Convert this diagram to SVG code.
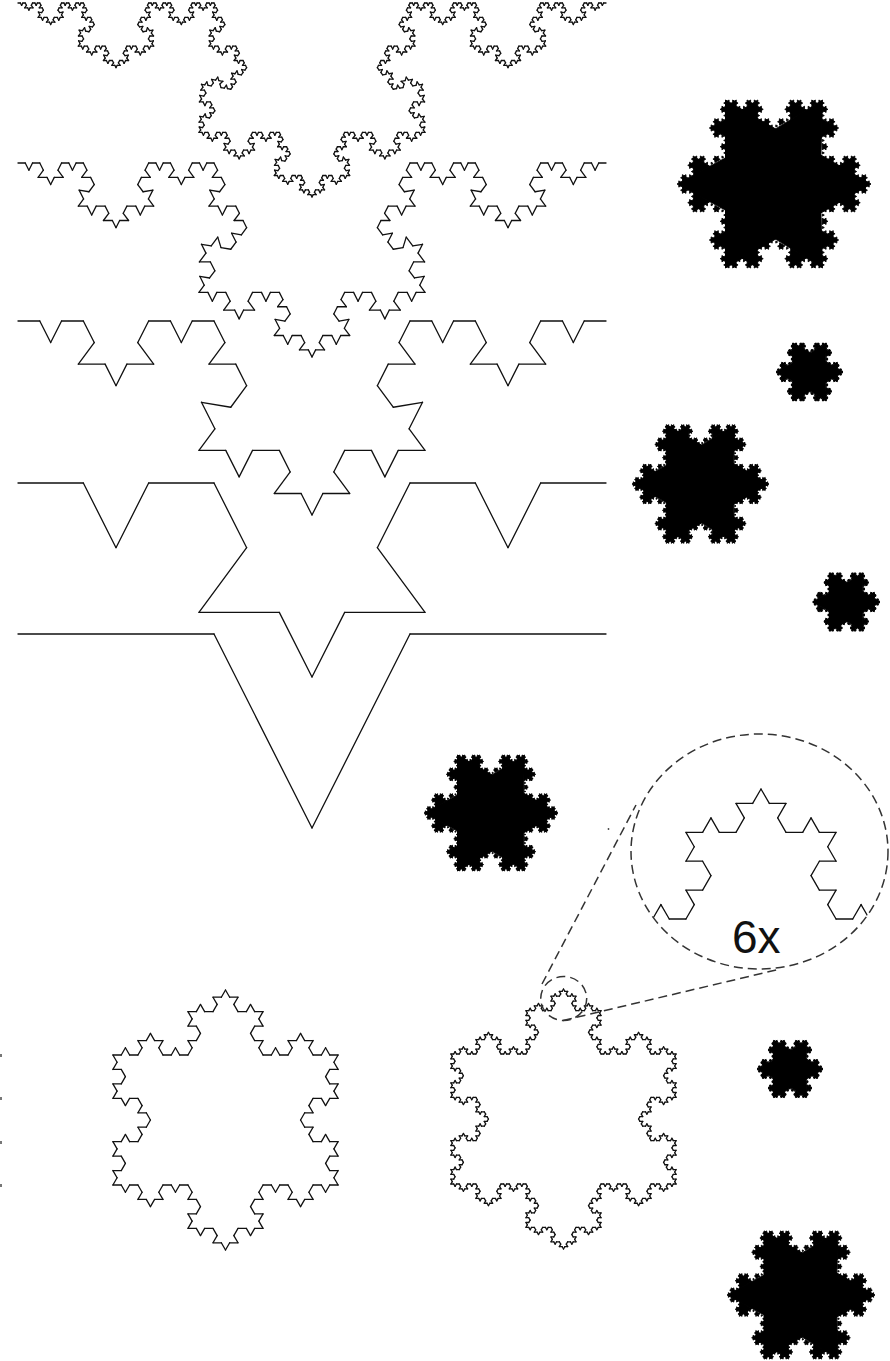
<svg xmlns="http://www.w3.org/2000/svg" width="890" height="1361" viewBox="0 0 890 1361">
<style>
.dash{fill:none;stroke:#333;stroke-width:1.5;stroke-dasharray:9 5}
.lbl{font-family:"Liberation Sans",Arial,sans-serif;font-size:46px;fill:#111}
.mark{fill:#777}
</style>
<defs>
<path id="seg" d="M0,0H1" fill="none" stroke="#111" stroke-width="1.3" stroke-linecap="round" vector-effect="non-scaling-stroke"/>
<polygon id="bump" points="0.3333333,-0.02 0.5,0.2886751 0.6666667,-0.02" fill="#000" stroke="#000" stroke-width="0.9" stroke-linejoin="round" vector-effect="non-scaling-stroke"/>
<polygon id="tri" points="0,-1 -0.8660254,0.5 0.8660254,0.5" fill="#000" stroke="#000" stroke-width="1" stroke-linejoin="round" vector-effect="non-scaling-stroke"/>
<!-- strip curve generator (apex depth 0.33) -->
<g id="s1"><use href="#seg" transform="scale(0.3333333)"/><use href="#seg" transform="translate(0.3333333,0) rotate(63.206) scale(0.3697)"/><use href="#seg" transform="translate(0.5,0.33) rotate(-63.206) scale(0.3697)"/><use href="#seg" transform="translate(0.6666667,0) scale(0.3333333)"/></g>
<g id="s2"><use href="#s1" transform="scale(0.3333333)"/><use href="#s1" transform="translate(0.3333333,0) rotate(63.206) scale(0.3697)"/><use href="#s1" transform="translate(0.5,0.33) rotate(-63.206) scale(0.3697)"/><use href="#s1" transform="translate(0.6666667,0) scale(0.3333333)"/></g>
<g id="s3"><use href="#s2" transform="scale(0.3333333)"/><use href="#s2" transform="translate(0.3333333,0) rotate(63.206) scale(0.3697)"/><use href="#s2" transform="translate(0.5,0.33) rotate(-63.206) scale(0.3697)"/><use href="#s2" transform="translate(0.6666667,0) scale(0.3333333)"/></g>
<g id="s4"><use href="#s3" transform="scale(0.3333333)"/><use href="#s3" transform="translate(0.3333333,0) rotate(63.206) scale(0.3697)"/><use href="#s3" transform="translate(0.5,0.33) rotate(-63.206) scale(0.3697)"/><use href="#s3" transform="translate(0.6666667,0) scale(0.3333333)"/></g>
<g id="s5"><use href="#s4" transform="scale(0.3333333)"/><use href="#s4" transform="translate(0.3333333,0) rotate(63.206) scale(0.3697)"/><use href="#s4" transform="translate(0.5,0.33) rotate(-63.206) scale(0.3697)"/><use href="#s4" transform="translate(0.6666667,0) scale(0.3333333)"/></g>
<!-- standard Koch curve -->
<g id="k1"><use href="#seg" transform="scale(0.3333333)"/><use href="#seg" transform="translate(0.3333333,0) rotate(60) scale(0.3333333)"/><use href="#seg" transform="translate(0.5,0.2886751) rotate(-60) scale(0.3333333)"/><use href="#seg" transform="translate(0.6666667,0) scale(0.3333333)"/></g>
<g id="k2"><use href="#k1" transform="scale(0.3333333)"/><use href="#k1" transform="translate(0.3333333,0) rotate(60) scale(0.3333333)"/><use href="#k1" transform="translate(0.5,0.2886751) rotate(-60) scale(0.3333333)"/><use href="#k1" transform="translate(0.6666667,0) scale(0.3333333)"/></g>
<g id="k3"><use href="#k2" transform="scale(0.3333333)"/><use href="#k2" transform="translate(0.3333333,0) rotate(60) scale(0.3333333)"/><use href="#k2" transform="translate(0.5,0.2886751) rotate(-60) scale(0.3333333)"/><use href="#k2" transform="translate(0.6666667,0) scale(0.3333333)"/></g>
<g id="k4"><use href="#k3" transform="scale(0.3333333)"/><use href="#k3" transform="translate(0.3333333,0) rotate(60) scale(0.3333333)"/><use href="#k3" transform="translate(0.5,0.2886751) rotate(-60) scale(0.3333333)"/><use href="#k3" transform="translate(0.6666667,0) scale(0.3333333)"/></g>
<!-- filled Koch bumps -->
<g id="f2"><use href="#bump"/><use href="#bump" transform="scale(0.3333333)"/><use href="#bump" transform="translate(0.3333333,0) rotate(60) scale(0.3333333)"/><use href="#bump" transform="translate(0.5,0.2886751) rotate(-60) scale(0.3333333)"/><use href="#bump" transform="translate(0.6666667,0) scale(0.3333333)"/></g>
<g id="f3"><use href="#bump"/><use href="#f2" transform="scale(0.3333333)"/><use href="#f2" transform="translate(0.3333333,0) rotate(60) scale(0.3333333)"/><use href="#f2" transform="translate(0.5,0.2886751) rotate(-60) scale(0.3333333)"/><use href="#f2" transform="translate(0.6666667,0) scale(0.3333333)"/></g>
<g id="f4"><use href="#bump"/><use href="#f3" transform="scale(0.3333333)"/><use href="#f3" transform="translate(0.3333333,0) rotate(60) scale(0.3333333)"/><use href="#f3" transform="translate(0.5,0.2886751) rotate(-60) scale(0.3333333)"/><use href="#f3" transform="translate(0.6666667,0) scale(0.3333333)"/></g>
<!-- snowflakes, unit radius, centred on origin -->
<g id="ko3"><use href="#k3" transform="translate(0,-1) rotate(120) scale(1.7320508)"/><use href="#k3" transform="translate(-0.8660254,0.5) scale(1.7320508)"/><use href="#k3" transform="translate(0.8660254,0.5) rotate(-120) scale(1.7320508)"/></g>
<g id="ko4"><use href="#k4" transform="translate(0,-1) rotate(120) scale(1.7320508)"/><use href="#k4" transform="translate(-0.8660254,0.5) scale(1.7320508)"/><use href="#k4" transform="translate(0.8660254,0.5) rotate(-120) scale(1.7320508)"/></g>
<g id="fs"><use href="#tri"/><use href="#f4" transform="translate(0,-1) rotate(120) scale(1.7320508)"/><use href="#f4" transform="translate(-0.8660254,0.5) scale(1.7320508)"/><use href="#f4" transform="translate(0.8660254,0.5) rotate(-120) scale(1.7320508)"/></g>
<clipPath id="clipBig"><ellipse cx="759.5" cy="851.5" rx="128.5" ry="117.5"/></clipPath>
</defs>
<rect width="890" height="1361" fill="#fff"/>

<g id="strip-5"><use href="#s5" transform="translate(18,3) scale(588)"/></g>
<g id="strip-4"><use href="#s4" transform="translate(18,163) scale(588)"/></g>
<g id="strip-3"><use href="#s3" transform="translate(18,321) scale(588)"/></g>
<g id="strip-2"><use href="#s2" transform="translate(18,483) scale(588)"/></g>
<g id="strip-1"><use href="#s1" transform="translate(18,634) scale(588)"/></g>

<g id="flake-filled-1"><use href="#fs" transform="translate(774,184) rotate(90) scale(97)"/></g>
<g id="flake-filled-2"><use href="#fs" transform="translate(809.5,372) rotate(90) scale(33.5)"/></g>
<g id="flake-filled-3"><use href="#fs" transform="translate(700.5,484) rotate(90) scale(68.5)"/></g>
<g id="flake-filled-4"><use href="#fs" transform="translate(846.3,602) rotate(90) scale(33.7)"/></g>
<g id="flake-filled-5"><use href="#fs" transform="translate(491,813) rotate(90) scale(67)"/></g>
<g id="flake-filled-6"><use href="#fs" transform="translate(790,1069) rotate(90) scale(33)"/></g>
<g id="flake-filled-7"><use href="#fs" transform="translate(801,1295) rotate(90) scale(74)"/></g>

<g id="flake-outline-3"><use href="#ko3" transform="translate(225.5,1120) scale(130)"/></g>
<g id="flake-outline-4"><use href="#ko4" transform="translate(563.5,1119) scale(130)"/></g>

<g id="magnified" clip-path="url(#clipBig)"><use href="#ko4" transform="translate(761,1569) scale(780)"/></g>

<g id="connectors">
<ellipse class="dash" cx="563.7" cy="998.5" rx="23" ry="22"/>
<ellipse class="dash" cx="759.5" cy="851.5" rx="128.5" ry="117.5"/>
<line class="dash" x1="542" y1="984" x2="636" y2="805"/>
<line class="dash" x1="563" y1="1020.5" x2="778" y2="969.5"/>
</g>
<text class="lbl" x="732" y="953">6x</text>
<circle cx="608.5" cy="829" r="0.9" fill="#444"/>
<g id="edge-marks"><rect class="mark" x="0" y="1054" width="2" height="3"/><rect class="mark" x="0" y="1097" width="2" height="3"/><rect class="mark" x="0" y="1141" width="2" height="3"/><rect class="mark" x="0" y="1184" width="2" height="3"/></g>
</svg>
